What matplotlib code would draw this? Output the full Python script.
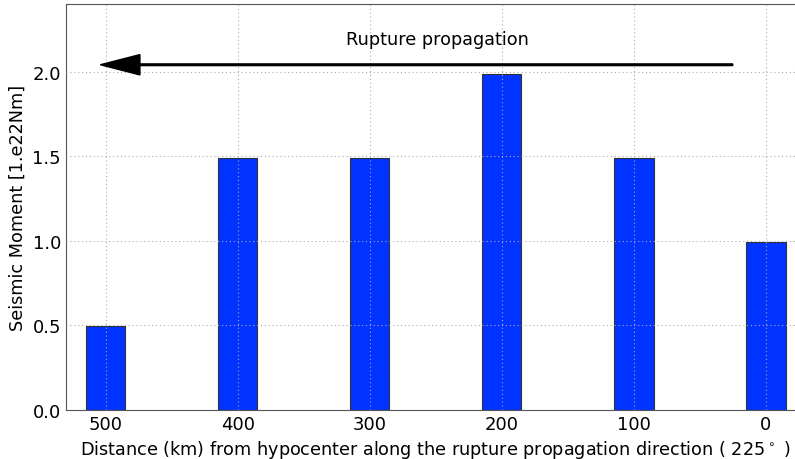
import matplotlib
matplotlib.use("Agg")
import matplotlib.pyplot as plt

distances = [500, 400, 300, 200, 100, 0]
moments = [0.495, 1.49, 1.49, 1.985, 1.49, 0.995]
tick_labels = ["500", "400", "300", "200", "100", "0"]

plt.rcParams['font.family'] = ['DejaVu Sans']
fig = plt.figure(figsize=(7.95, 4.6), dpi=100)
ax = fig.add_axes([0.083, 0.1065, 0.93, 0.883])

ax.bar(distances, moments, width=30, color='#0033ff', edgecolor='#333333', linewidth=0.8, zorder=1)

ax.set_xlim(530, -30)
ax.set_ylim(0, 2.4)
ax.set_xticks(distances)
ax.set_xticklabels(tick_labels)
ax.set_yticks([0.0, 0.5, 1.0, 1.5, 2.0])
ax.set_yticklabels(["0.0", "0.5", "1.0", "1.5", "2.0"])
ax.tick_params(labelsize=13, direction='in', length=0)
ax.grid(True, linestyle=(0, (1, 2.5)), color='#aaaaaa', linewidth=0.8, zorder=3)
ax.set_axisbelow(False)

for s in ax.spines.values():
    s.set_color('#555555')

ax.arrow(25, 2.04, 479, 0, width=0.01, head_width=0.12, head_length=30,
         length_includes_head=True, color='black', zorder=4)
ax.text(249, 2.19, "Rupture propagation", ha='center', va='center', fontsize=12.7)

ax.set_xlabel("Distance (km) from hypocenter along the rupture propagation direction ( 225$^\\circ$ )", fontsize=12.7)
ax.set_ylabel("Seismic Moment [1.e22Nm]", fontsize=12.7)

fig.savefig("out.png", dpi=100)
